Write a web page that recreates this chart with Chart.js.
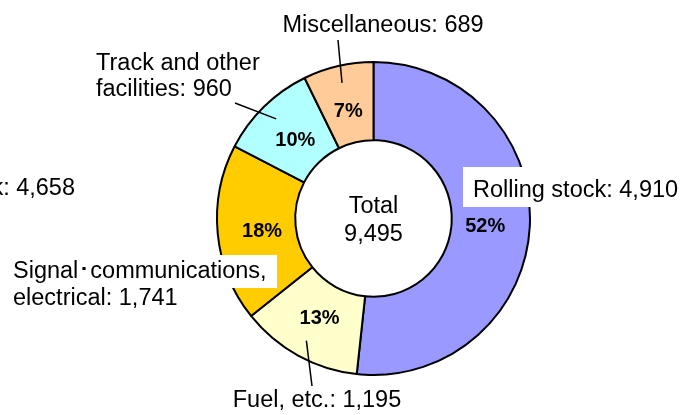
<!DOCTYPE html>
<html><head><meta charset="utf-8">
<script src="https://cdn.jsdelivr.net/npm/chart.js@4"></script>
<style>html,body{margin:0;padding:0;background:#fff}#wrap{width:692px;height:415px;position:relative}</style>
</head><body><div id="wrap"><canvas id="c" width="692" height="415"></canvas></div>
<script>
// ---- data ----
const categories = ['Rolling stock', 'Fuel, etc.', 'Signal\uFF65communications, electrical', 'Track and other facilities', 'Miscellaneous'];
const values = [4910, 1195, 1741, 960, 689];
const colors = ['#9999FF', '#FFFFCC', '#FFCC00', '#B2FFFF', '#FFCC99'];
const centerTitle = 'Total';
const clippedNeighbourLabel = 'Rolling stock: 4,658';

// ---- layout of callouts (text placement only) ----
const callouts = [
  { lines: ['Rolling stock: 4,910'], x: 473, y: 197, align: 'left', box: [463, 167, 232, 40] },
  { lines: ['Fuel, etc.: 1,195'], x: 317, y: 407, align: 'center', leader: [312, 386] },
  { lines: ['Signal\uFF65communications,', 'electrical: 1,741'], x: 13, y: 278, align: 'left', lh: 27, box: [4, 255, 273, 33] },
  { lines: ['Track and other', 'facilities: 960'], x: 96, y: 70, align: 'left', lh: 26, leader: [235, 103] },
  { lines: ['Miscellaneous: 689'], x: 383, y: 32, align: 'center', leader: [338, 40] }
];

const FONT = "'Liberation Sans', Arial, sans-serif";
const fmt = n => n.toLocaleString('en-US');
const total = values.reduce((a, b) => a + b, 0);

const overlay = {
  id: 'overlay',
  afterDatasetsDraw(chart) {
    const ctx = chart.ctx;
    const arcs = chart.getDatasetMeta(0).data;
    ctx.save();
    // leader lines
    ctx.strokeStyle = '#000';
    ctx.lineWidth = 1.5;
    callouts.forEach((c, i) => {
      if (!c.leader) return;
      const a = arcs[i].getProps(['x', 'y', 'startAngle', 'endAngle', 'outerRadius'], true);
      const mid = (a.startAngle + a.endAngle) / 2;
      const r = a.outerRadius * 0.89;
      ctx.beginPath();
      ctx.moveTo(c.leader[0], c.leader[1]);
      ctx.lineTo(a.x + Math.cos(mid) * r, a.y + Math.sin(mid) * r);
      ctx.stroke();
    });
    // white boxes
    ctx.fillStyle = '#fff';
    callouts.forEach(c => { if (c.box) ctx.fillRect(c.box[0], c.box[1], c.box[2], c.box[3]); });
    // callout text
    ctx.fillStyle = '#000';
    ctx.font = '23.5px ' + FONT;
    ctx.textBaseline = 'alphabetic';
    callouts.forEach(c => {
      ctx.textAlign = c.align;
      c.lines.forEach((t, k) => ctx.fillText(t, c.x, c.y + k * (c.lh || 0)));
    });
    ctx.textAlign = 'right';
    ctx.fillText(clippedNeighbourLabel, 75, 195);
    // percentages
    ctx.font = 'bold 20px ' + FONT;
    ctx.textAlign = 'center';
    ctx.textBaseline = 'middle';
    arcs.forEach((arc, i) => {
      const a = arc.getProps(['x', 'y', 'startAngle', 'endAngle', 'outerRadius'], true);
      const mid = (a.startAngle + a.endAngle) / 2;
      const r = a.outerRadius * 0.715;
      ctx.fillText(Math.round(values[i] / total * 100) + '%', a.x + Math.cos(mid) * r, a.y + Math.sin(mid) * r + 2);
    });
    // centre text
    const a0 = arcs[0];
    ctx.font = '23.5px ' + FONT;
    ctx.textBaseline = 'alphabetic';
    ctx.fillText(centerTitle, a0.x, a0.y - 6);
    ctx.fillText(fmt(total), a0.x, a0.y + 22);
    ctx.restore();
  }
};

new Chart(document.getElementById('c'), {
  type: 'doughnut',
  data: {
    labels: categories,
    datasets: [{
      data: values,
      backgroundColor: colors,
      borderColor: '#000',
      borderWidth: 2
    }]
  },
  options: {
    responsive: false,
    animation: false,
    cutout: '50%',
    layout: { padding: { left: 216, right: 161, top: 61, bottom: 39 } },
    plugins: { legend: { display: false }, tooltip: { enabled: false } }
  },
  plugins: [overlay]
});
</script>
</body></html>
